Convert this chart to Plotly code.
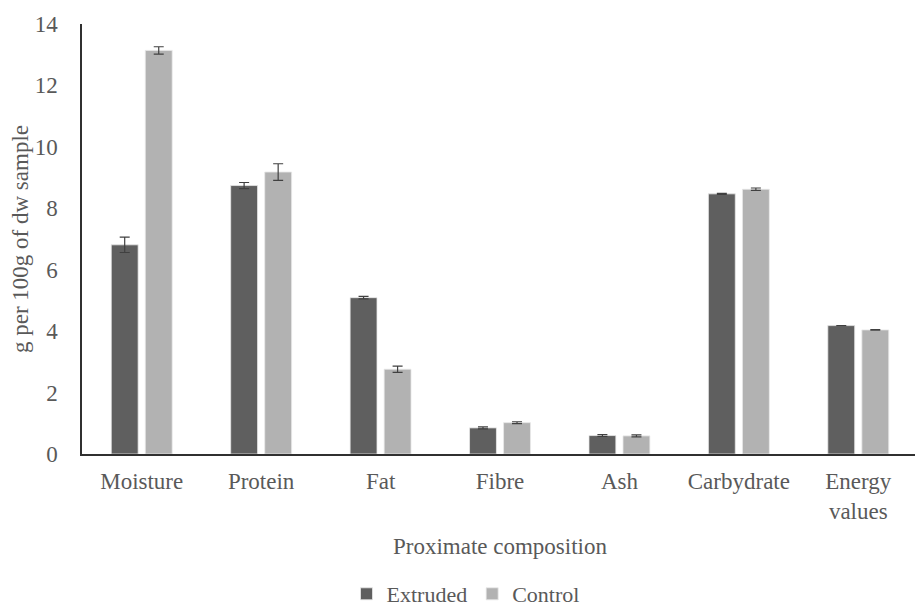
import plotly.graph_objects as go

categories = ["Moisture", "Protein", "Fat", "Fibre", "Ash", "Carbydrate", "Energy<br>values"]
extruded = [6.81, 8.74, 5.09, 0.85, 0.60, 8.47, 4.18]
extruded_err = [0.25, 0.10, 0.04, 0.03, 0.03, 0.02, 0.0]
control = [13.14, 9.18, 2.76, 1.02, 0.59, 8.62, 4.04]
control_err = [0.12, 0.27, 0.10, 0.03, 0.03, 0.04, 0.01]

font_family = "Liberation Serif, Times New Roman, serif"
text_color = "#595959"
fs = 23

fig = go.Figure()
fig.add_trace(go.Bar(
    name="Extruded", x=categories, y=extruded,
    marker=dict(color="#5f5f5f", line=dict(color="#e8e8e8", width=0.8)),
    error_y=dict(type="data", array=extruded_err, color="#404040", thickness=1.2, width=5),
))
fig.add_trace(go.Bar(
    name="Control", x=categories, y=control,
    marker=dict(color="#b2b2b2", line=dict(color="#e8e8e8", width=0.8)),
    error_y=dict(type="data", array=control_err, color="#404040", thickness=1.2, width=5),
))

fig.update_layout(
    width=915, height=599,
    margin=dict(l=74, r=5, t=16, b=153, autoexpand=False),
    paper_bgcolor="white", plot_bgcolor="white",
    barmode="group", bargap=0.43, bargroupgap=0.21,
    font=dict(family=font_family, color=text_color, size=fs),
    showlegend=True,
    legend=dict(orientation="h", x=0.5, xanchor="center", xref="container",
                y=13 / 599, yanchor="middle", yref="container",
                font=dict(size=fs - 1, color=text_color), itemwidth=30, traceorder="normal"),
    xaxis=dict(
        title=dict(text="Proximate composition", font=dict(size=fs, color=text_color)),
        showline=True, linecolor="#303030", linewidth=1.5, automargin=False,
        showgrid=False, ticks="", tickfont=dict(size=fs, color=text_color),
        ticklabelstandoff=6,
    ),
    yaxis=dict(
        title=dict(text="g per 100g of dw sample", font=dict(size=fs, color=text_color)),
        range=[0, 14], dtick=2, showline=True, linecolor="#303030", linewidth=1.5,
        showgrid=False, zeroline=False, ticks="", tickfont=dict(size=fs, color=text_color),
        ticklabelstandoff=18, automargin=False,
    ),
)

fig.write_html("out.html")
